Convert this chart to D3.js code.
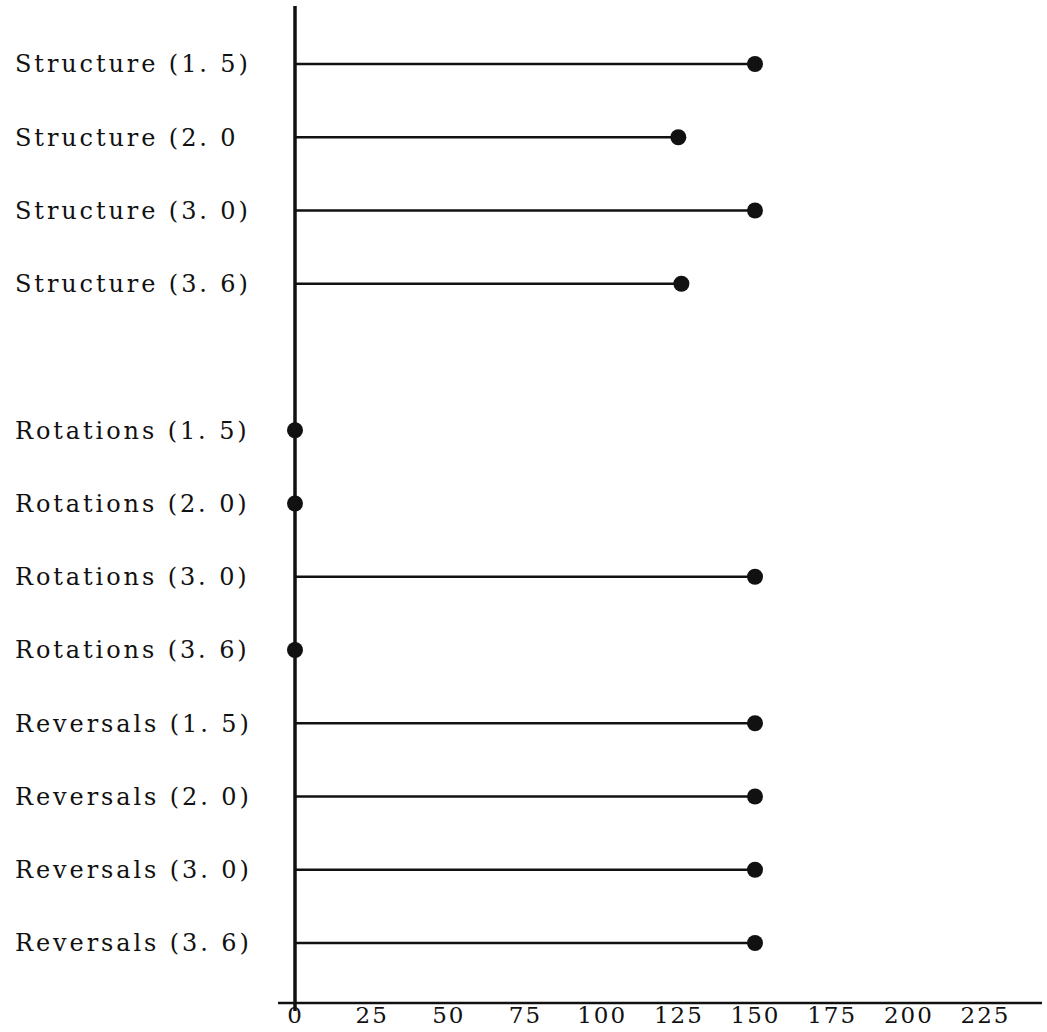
<!DOCTYPE html>
<html>
<head>
<meta charset="utf-8">
<script src="https://cdn.jsdelivr.net/npm/d3@7"></script>
<style>
  body { margin: 0; background: #fff; }
  svg { display: block; }
  text { font-family: "DejaVu Serif", "Liberation Serif", serif; fill: #111; }
</style>
</head>
<body>
<div id="chart"></div>
<script>
// Data
const categories = [
  "Structure (1. 5)", "Structure (2. 0", "Structure (3. 0)", "Structure (3. 6)",
  "",
  "Rotations (1. 5)", "Rotations (2. 0)", "Rotations (3. 0)", "Rotations (3. 6)",
  "Reversals (1. 5)", "Reversals (2. 0)", "Reversals (3. 0)", "Reversals (3. 6)"
];
const values = [150, 125, 150, 126, null, 0, 0, 150, 0, 150, 150, 150, 150];
const tickValues = [0, 25, 50, 75, 100, 125, 150, 175, 200, 225];

const width = 1047;
const height = 1032;
const axisX = 295;
const axisY = 1003;

const svg = d3.select("#chart")
  .append("svg")
    .attr("width", width)
    .attr("height", height);

// Scales
const xScale = d3.scaleLinear()
  .domain([0, 225])
  .range([axisX, 985]);

const yScale = d3.scalePoint()
  .domain(d3.range(categories.length))
  .range([64, 943]);

const rows = categories
  .map((c, i) => ({ label: c, value: values[i], idx: i }))
  .filter(d => d.label !== "");

// Bottom axis
const bottomAxis = d3.axisBottom(xScale)
  .tickValues(tickValues)
  .tickSize(0)
  .tickPadding(4);
const xAxisG = svg.append("g")
  .attr("transform", `translate(0, ${axisY})`)
  .call(bottomAxis);
xAxisG.select(".domain").remove();
xAxisG.selectAll(".tick text")
  .attr("font-size", 23)
  .attr("letter-spacing", 2)
  .style("font-family", "\"DejaVu Serif\", serif")
  .attr("fill", "#111");
svg.append("line")
  .attr("x1", 278).attr("x2", 1042)
  .attr("y1", axisY).attr("y2", axisY)
  .attr("stroke", "#111")
  .attr("stroke-width", 2.5);

// Vertical axis line
svg.append("line")
  .attr("x1", axisX).attr("x2", axisX)
  .attr("y1", 6).attr("y2", axisY + 8)
  .attr("stroke", "#111")
  .attr("stroke-width", 3.5);

// Category labels
svg.append("g")
  .selectAll("text")
  .data(rows)
  .join("text")
    .attr("x", 15)
    .attr("y", d => yScale(d.idx))
    .attr("dy", "0.35em")
    .attr("font-size", 24)
    .attr("letter-spacing", 2.9)
    .text(d => d.label);

// Stems
svg.append("g")
  .selectAll("line")
  .data(rows.filter(d => d.value > 0))
  .join("line")
    .attr("x1", xScale(0))
    .attr("x2", d => xScale(d.value))
    .attr("y1", d => yScale(d.idx))
    .attr("y2", d => yScale(d.idx))
    .attr("stroke", "#111")
    .attr("stroke-width", 2.5);

// Dots
svg.append("g")
  .selectAll("circle")
  .data(rows)
  .join("circle")
    .attr("cx", d => xScale(d.value))
    .attr("cy", d => yScale(d.idx))
    .attr("r", 8)
    .attr("fill", "#111");
</script>
</body>
</html>
